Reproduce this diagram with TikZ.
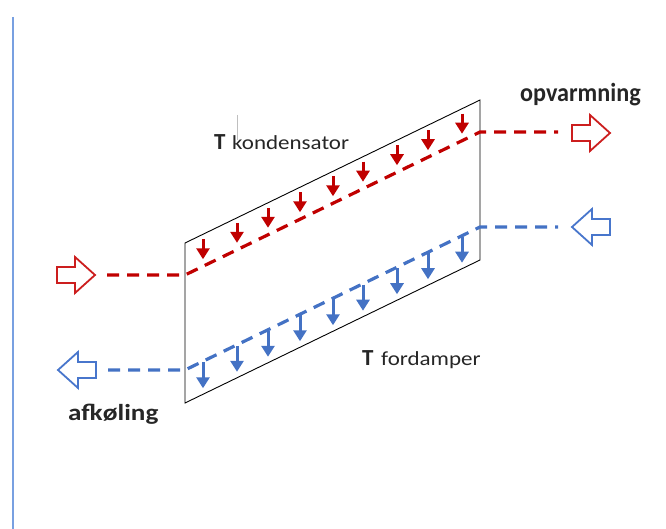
\documentclass[tikz,border=0pt]{standalone}
\usepackage{fontspec}
\setmainfont{Carlito}
\usetikzlibrary{arrows.meta}
\definecolor{kred}{RGB}{192,0,0}
\definecolor{kblue}{RGB}{68,114,196}
\definecolor{hred}{RGB}{204,30,30}
\definecolor{hblue}{RGB}{72,118,204}
\definecolor{ruleblue}{RGB}{120,160,225}
\tikzset{
  flow/.style={line width=3.2pt, dash pattern=on 12pt off 8pt},
  hollow/.style={line width=1.8pt, fill=white, line join=miter},
  heat/.style={line width=3pt, -{Triangle[length=11pt,width=13pt]}},
  box/.style={draw=black, line width=0.9pt},
  lbl/.style={anchor=base west, inner sep=0pt, text=black!85}
}
\begin{document}
\begin{tikzpicture}[x=1pt,y=-1pt]
\useasboundingbox (0,0) rectangle (666,529);
% left rule
\draw[ruleblue, line width=2pt] (13,17) -- (13,529);
% box
\coordinate (TL) at (185,243);
\coordinate (BL) at (185,403);
\coordinate (TR) at (480,100);
\coordinate (BR) at (480,260);
\draw[box] (TL) -- (TR) -- (BR) -- (BL) -- cycle;
% flow coordinates
\coordinate (rs) at (107,275);
\coordinate (rl) at (185,275);
\coordinate (rr) at (480,132);
\coordinate (re) at (558,132);
\coordinate (bs) at (558,227);
\coordinate (br) at (480,227);
\coordinate (bl) at (185,370);
\coordinate (be) at (108,370);
% hollow arrows
\draw[hollow, draw=hred, shift={(57,275)}] (0,-8) -- (18,-8) -- (18,-18) -- (38,0) -- (18,18) -- (18,8) -- (0,8) -- cycle;
\draw[hollow, draw=hred, shift={(572,133)}] (0,-8) -- (18,-8) -- (18,-18) -- (38,0) -- (18,18) -- (18,8) -- (0,8) -- cycle;
\draw[hollow, draw=hblue, shift={(610,227)}] (0,-8) -- (-18,-8) -- (-18,-18) -- (-38,0) -- (-18,18) -- (-18,8) -- (0,8) -- cycle;
\draw[hollow, draw=hblue, shift={(96,370)}] (0,-8) -- (-18,-8) -- (-18,-18) -- (-38,0) -- (-18,18) -- (-18,8) -- (0,8) -- cycle;
% dashed flows
\draw[flow, kred] (rs) -- (rl) -- (rr) -- (re);
\draw[flow, kblue] (be) -- (bl) -- (br) -- (bs);
% heat arrows
\foreach \x in {203,237,268,300,333,363,397,428,462}{
  \draw[heat, kred] ({\x},{243-(\x-185)*0.4847+5}) -- ({\x},{275-(\x-185)*0.4847-7});
  \draw[heat, kblue] ({\x},{370-(\x-185)*0.4847+1}) -- ({\x},{403-(\x-185)*0.4847-6});
}
% cursor mark
\draw[black!25, line width=0.6pt] (237,115) -- (237,140);
% labels
\node[lbl, font=\bfseries\fontsize{23}{23}\selectfont] (tk) at (214,150) {T};
\node[lbl, font=\fontsize{20}{20}\selectfont] (kond) at (232,150) {\scalebox{1.15}[1]{kondensator}};
\node[lbl, font=\bfseries\fontsize{23}{23}\selectfont] (tf) at (362,365) {T};
\node[lbl, font=\fontsize{20}{20}\selectfont] (ford) at (381,365) {\scalebox{1.15}[1]{fordamper}};
\node[lbl, font=\bfseries\fontsize{26}{26}\selectfont] (opv) at (520,102) {\scalebox{0.93}[1]{opvarmning}};
\node[lbl, font=\bfseries\fontsize{23}{23}\selectfont] (afk) at (68,420.5) {\scalebox{1.18}[1]{afkøling}};
\end{tikzpicture}
\end{document}
